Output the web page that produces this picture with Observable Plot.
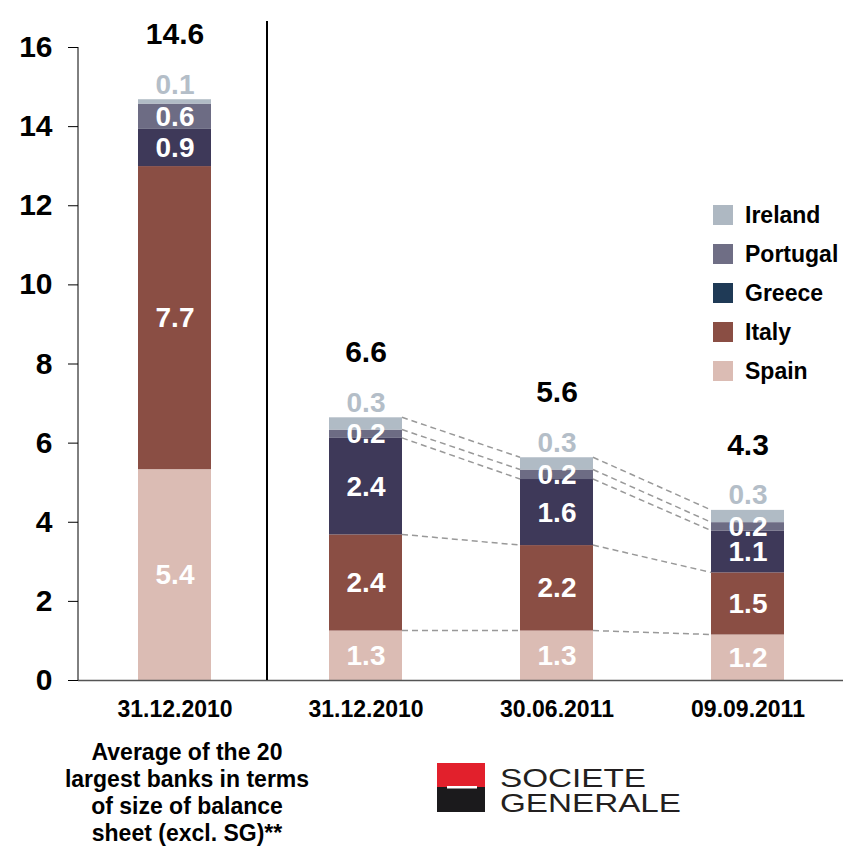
<!DOCTYPE html>
<html>
<head>
<meta charset="utf-8">
<script src="https://cdn.jsdelivr.net/npm/d3@7"></script>
<script src="https://cdn.jsdelivr.net/npm/@observablehq/plot@0.6"></script>
<style>
  html, body { margin: 0; padding: 0; background: #fff; }
  #wrap { position: relative; width: 845px; height: 850px; font-family: "Liberation Sans", Arial, sans-serif; font-weight: bold; color: #000; }
  #legend { position: absolute; left: 0; top: 0; }
  .lg-row { position: absolute; left: 713px; height: 20px; }
  .lg-sw { position: absolute; left: 0; top: 0; width: 20px; height: 20px; }
  .lg-tx { position: absolute; left: 32px; top: -3px; font-size: 23px; line-height: 26px; white-space: nowrap; }
  #caption { position: absolute; left: 37px; top: 739px; width: 300px; text-align: center; font-size: 23px; line-height: 27px; }
  #logo { position: absolute; left: 437px; top: 758px; overflow: visible; }
</style>
</head>
<body>
<div id="wrap">
  <div id="chart"></div>
  <div id="legend"></div>
  <div id="caption"></div>
  <svg id="logo" width="260" height="66">
    <rect x="0" y="5" width="48" height="24" fill="#e2202c"></rect>
    <rect x="0" y="29" width="48" height="25" fill="#1b1a1c"></rect>
    <rect x="10" y="28" width="30" height="2.5" fill="#ffffff"></rect>
    <text x="63" y="29" font-family="'Liberation Sans', Arial, sans-serif" font-size="26" font-weight="normal" fill="#231f20" textLength="146" lengthAdjust="spacingAndGlyphs">SOCIETE</text>
    <text x="63" y="54" font-family="'Liberation Sans', Arial, sans-serif" font-size="26" font-weight="normal" fill="#231f20" textLength="181" lengthAdjust="spacingAndGlyphs">GENERALE</text>
  </svg>
</div>
<script>
// ---- data ----
const dates = ["avg", "d1", "d2", "d3"];
const dateLabels = ["31.12.2010", "31.12.2010", "30.06.2011", "09.09.2011"];
const countries = ["Spain", "Italy", "Greece", "Portugal", "Ireland"];
const spain    = [5.33, 1.25, 1.25, 1.15];
const italy    = [7.66, 2.43, 2.16, 1.57];
const greece   = [0.94, 2.44, 1.67, 1.06];
const portugal = [0.64, 0.21, 0.24, 0.21];
const ireland  = [0.11, 0.31, 0.31, 0.31];
const spainLbl    = ["5.4", "1.3", "1.3", "1.2"];
const italyLbl    = ["7.7", "2.4", "2.2", "1.5"];
const greeceLbl   = ["0.9", "2.4", "1.6", "1.1"];
const portugalLbl = ["0.6", "0.2", "0.2", "0.2"];
const irelandLbl  = ["0.1", "0.3", "0.3", "0.3"];
const totalLbl    = ["14.6", "6.6", "5.6", "4.3"];
const yTicks = [0, 2, 4, 6, 8, 10, 12, 14, 16];
const barColors = ["#dbbcb4", "#8a4e44", "#3e3959", "#6d6c84", "#b0bbc5"];
const legendOrder = ["Ireland", "Portugal", "Greece", "Italy", "Spain"];
const legendColors = ["#aeb8c2", "#6f6e85", "#1f3a56", "#8a4e44", "#dbbcb4"];
const captionLines = ["Average of the 20", "largest banks in terms", "of size of balance", "sheet (excl. SG)**"];

// ---- build table ----
const series = [spain, italy, greece, portugal, ireland];
const seriesLbl = [spainLbl, italyLbl, greeceLbl, portugalLbl, irelandLbl];
const rows = [];
dates.forEach((d, i) => {
  countries.forEach((c, k) => rows.push({date: d, country: c, value: series[k][i], label: seriesLbl[k][i]}));
});
const totals = dates.map((d, i) => ({date: d, sum: d3.sum(series, s => s[i]), text: totalLbl[i]}));

const chart = Plot.plot({
  width: 845,
  height: 730,
  marginLeft: 78,
  marginRight: 2,
  marginTop: 47,
  marginBottom: 50,
  style: {fontFamily: "'Liberation Sans', Arial, sans-serif", fontWeight: "bold", color: "#000", background: "transparent", overflow: "visible"},
  x: {domain: dates, paddingInner: 0.62, paddingOuter: 0.31, axis: null},
  y: {domain: [0, 16], axis: null},
  color: {domain: countries, range: barColors},
  marks: [
    Plot.barY(rows, {x: "date", y: "value", fill: "country"}),
    Plot.ruleY([0], {stroke: "#555", strokeWidth: 1.5}),
    Plot.axisY({ticks: yTicks, tickSize: 10, tickPadding: 16, fontSize: 30, tickFormat: d => String(d), stroke: "#000", strokeWidth: 1, label: null}),
    Plot.axisX({tickSize: 0, tickPadding: 20, fontSize: 23, tickFormat: d => dateLabels[dates.indexOf(d)], label: null}),
    Plot.text(rows, Plot.stackY({x: "date", y: "value", text: d => d.country !== "Ireland" ? d.label : null, fill: "#fff", fontSize: 28, fontWeight: "bold"})),
    Plot.text(rows, Plot.stackY2({x: "date", y: "value", text: d => d.country === "Ireland" ? d.label : null, fill: "#b4bec8", fontSize: 28, fontWeight: "bold", dy: -15})),
    Plot.text(totals, {x: "date", y: "sum", text: "text", dy: -65, fontSize: 30, fontWeight: "bold", fill: "#000"})
  ]
});
document.getElementById("chart").appendChild(chart);

// ---- extra lines drawn through the chart's scales ----
const xs = chart.scale("x"), ys = chart.scale("y");
const bw = xs.bandwidth;
const svg = d3.select(chart);
const g = svg.append("g");
// y axis line
g.append("line").attr("x1", 78).attr("x2", 78).attr("y1", ys.apply(0)).attr("y2", ys.apply(16)).attr("stroke", "#000").attr("stroke-width", 1);
// separator
const sepX = (xs.apply(dates[0]) + bw + xs.apply(dates[1])) / 2 - 3;
g.append("line").attr("x1", sepX).attr("x2", sepX).attr("y1", ys.apply(0)).attr("y2", ys.apply(16) - 26).attr("stroke", "#000").attr("stroke-width", 2);
// dashed connectors between stacked boundaries
const cum = dates.map((d, i) => { let s = 0; return series.map(arr => (s += arr[i])); });
for (let i = 1; i < dates.length - 1; i++) {
  for (let k = 0; k < countries.length; k++) {
    g.append("line")
      .attr("x1", xs.apply(dates[i]) + bw).attr("y1", ys.apply(cum[i][k]))
      .attr("x2", xs.apply(dates[i + 1])).attr("y2", ys.apply(cum[i + 1][k]))
      .attr("stroke", "#999").attr("stroke-width", 1.5).attr("stroke-dasharray", "6,4");
  }
}

// ---- legend ----
const lg = document.getElementById("legend");
legendOrder.forEach((name, i) => {
  const row = document.createElement("div");
  row.className = "lg-row";
  row.style.top = (205 + i * 39) + "px";
  row.innerHTML = `<div class="lg-sw" style="background:${legendColors[i]}"></div><div class="lg-tx">${name}</div>`;
  lg.appendChild(row);
});
// ---- caption ----
document.getElementById("caption").innerHTML = captionLines.join("<br>");
</script>
</body>
</html>
